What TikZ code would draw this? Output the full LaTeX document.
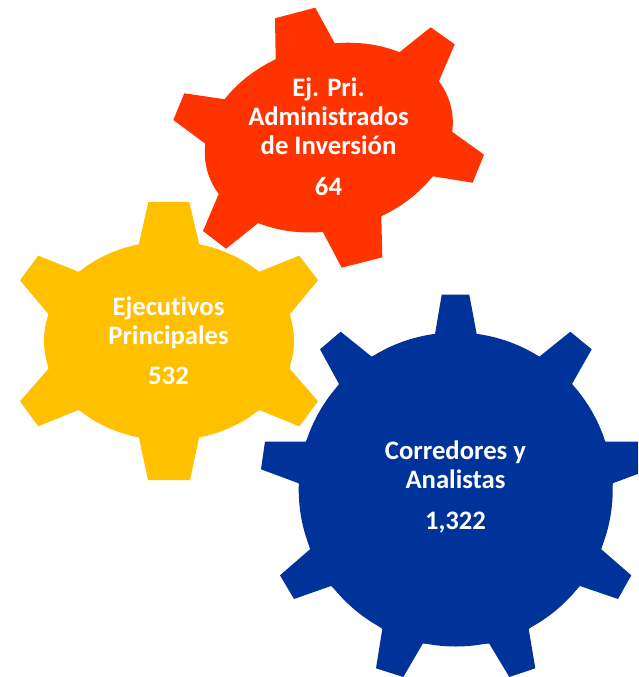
\documentclass[tikz,border=0pt]{standalone}
\usepackage{fontspec}
\setmainfont[RawFeature=-liga]{Carlito}
\definecolor{gearred}{HTML}{FF3300}
\definecolor{gearyellow}{HTML}{FFC000}
\definecolor{gearblue}{HTML}{003399}
\tikzset{
  gearlabel/.style={text=white,font=\bfseries\fontsize{20pt}{21.75pt}\selectfont,align=center,inner sep=0pt,anchor=center},
}
\begin{document}
\begin{tikzpicture}[x=0.75pt,y=-0.75pt]
\useasboundingbox (0,0) rectangle (638,677);
\clip (0,0) rectangle (638,677);
% yellow gear
\fill[gearyellow] (169,340.9) ellipse [x radius=93.75pt,y radius=74.6pt];
\fill[gearyellow] (148.3,202) -- (189.3,202) -- (199.3,245) -- (259.3,271.7) -- (299.3,255.7) -- (318,280.3) -- (290,314) -- (290,369) -- (318,401.3) -- (299.3,426.3) -- (259.3,410) -- (199.3,436.7) -- (190,480) -- (148,480) -- (138.7,436.7) -- (78.3,410) -- (38.3,426.3) -- (20,401.3) -- (48.3,369) -- (48.3,314) -- (20,280.3) -- (38.3,255.7) -- (78.3,271.7) -- (138.7,245) -- cycle;
% red gear
\fill[gearred,rotate around={15:(328.8,137.6)}] (328.8,137.6) ellipse [x radius=94.5pt,y radius=69.15pt];
\fill[gearred] (275,18.3) -- (315.3,7.7) -- (334.7,43.3) -- (399.3,52.3) -- (430.7,27.3) -- (454.7,44.3) -- (438.7,81.7) -- (452,131.7) -- (484,154.7) -- (472.7,182.7) -- (432.7,176.3) -- (381.3,216) -- (382.3,257.3) -- (341.7,267.7) -- (322.7,231.7) -- (258.3,223) -- (226,248.7) -- (203,231) -- (219,193.3) -- (205.7,144) -- (173.3,120) -- (184.3,93.3) -- (225,99.3) -- (275.7,59.7) -- cycle;
% blue gear
\fill[gearblue] (455.7,489.5) circle [radius=117.75pt];
\fill[gearblue] (441.7,294.7) -- (469.3,294.7) -- (476.7,334) -- (539.3,356.7) -- (570.3,331.7) -- (591.7,349.3) -- (572,384) -- (605.3,441.7) -- (646,441.7) -- (650,469.3) -- (612.7,483.3) -- (601.3,549.3) -- (631.3,575.3) -- (618,599) -- (580,586) -- (528.7,629) -- (535.3,668.3) -- (509.3,677) -- (489.3,643.7) -- (422.7,643.7) -- (403.3,677) -- (376,668.3) -- (382.3,629) -- (331,586) -- (294,599) -- (280,575.3) -- (310,549.3) -- (298.7,483.3) -- (261,469.3) -- (265,441.7) -- (305.7,441.7) -- (339,384) -- (320,349.3) -- (340.7,331.7) -- (371.7,356.7) -- (435,334) -- cycle;
% labels
\node[gearlabel] (redtext) at (328.5,137) {Ej. Pri.\\Administrados\\de Inversión\\[9pt]64};
\node[gearlabel] (yellowtext) at (168.5,341) {Ejecutivos\\Principales\\[8.5pt]532};
\node[gearlabel] (bluetext) at (455.5,487) {Corredores y\\Analistas\\[8.5pt]1,322};
\end{tikzpicture}
\end{document}
